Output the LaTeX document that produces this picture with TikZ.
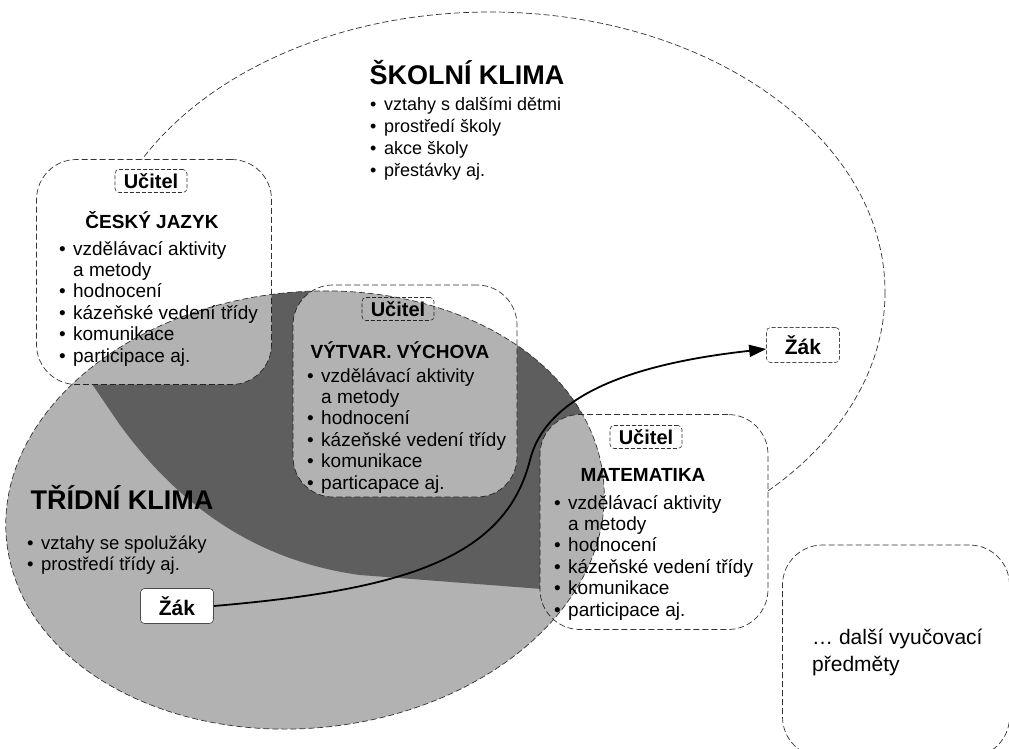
\documentclass[tikz,border=0pt]{standalone}
\usepackage{fontspec}
\setmainfont{Liberation Sans}
\usetikzlibrary{arrows.meta}
\newcommand{\itm}{\makebox[14pt][l]{\textbullet}}
\newcommand{\ind}{\hspace*{14pt}}
\newcommand{\mylist}[4]{\parbox[t]{#1}{\raggedright\fontsize{#2}{#3}\selectfont #4}}
\begin{document}
\begin{tikzpicture}[x=1pt,y=-1pt,
  dashline/.style={draw=black!80, line width=0.7pt, dash pattern=on 6pt off 3pt},
  subjbox/.style={dashline, fill=white, rounded corners=40pt, inner sep=0pt},
  ucitel/.style={draw=black!80, line width=0.6pt, dash pattern=on 4pt off 2pt, rounded corners=4pt, fill=white, font=\fontsize{20}{22}\selectfont\bfseries, minimum width=72pt, minimum height=23pt, inner sep=1pt},
  subjtitle/.style={font=\fontsize{19}{21}\selectfont\bfseries, inner sep=0pt},
  bigtitle/.style={font=\fontsize{27}{30}\selectfont\bfseries, inner sep=0pt},
  itemlist/.style={inner sep=0pt, anchor=base west},
  zak/.style={draw=black!70, line width=0.6pt, fill=white, rounded corners=4pt, font=\fontsize{21}{23}\selectfont\bfseries, minimum width=73pt, minimum height=35pt, inner sep=1pt},
]
\useasboundingbox (0,0) rectangle (1009,748);
\fill[white] (0,0) rectangle (1009,748);
\clip (0,0) rectangle (1009,748);

% school climate ellipse
\filldraw[fill=white, dashline] (490,292) ellipse [x radius=395, y radius=280];

% class climate: white base (hides school outline)
\fill[white, rotate around={6:(305,510)}] (305,510) ellipse [x radius=300, y radius=218];

% dark zone inside the class ellipse
\begin{scope}
  \clip[rotate around={6:(305,510)}] (305,510) ellipse [x radius=300, y radius=218];
  \fill[black!47] (60,337) -- (120,425) .. controls (175,500) and (250,560) .. (360,575)
     -- (620,595) -- (640,250) -- (250,250) -- cycle;
\end{scope}

% subject boxes
\node[subjbox, minimum width=235pt, minimum height=225pt] (cj) at (154,272) {};
\node[subjbox, minimum width=224pt, minimum height=212pt] (vv) at (405,391) {};
\node[subjbox, minimum width=228pt, minimum height=215pt] (ma) at (654,522) {};
\node[subjbox, minimum width=227pt, minimum height=212pt] (dv) at (896,651) {};

\node[ucitel] (u1) at (151,181) {Učitel};
\node[ucitel] (u2) at (398,309) {Učitel};
\node[ucitel] (u3) at (646,437) {Učitel};

% class climate halftone overlay
\fill[black, opacity=0.3, rotate around={6:(305,510)}] (305,510) ellipse [x radius=300, y radius=218];
\draw[dashline, rotate around={6:(305,510)}] (305,510) ellipse [x radius=300, y radius=218];

% titles
\node[bigtitle] (tsk) at (467,73) {ŠKOLNÍ KLIMA};
\node[bigtitle] (ttr) at (122,497) {TŘÍDNÍ KLIMA};
\node[subjtitle] (tcj) at (152,220) {ČESKÝ JAZYK};
\node[subjtitle] (tvv) at (400,350) {VÝTVAR. VÝCHOVA};
\node[subjtitle] (tma) at (643,475) {MATEMATIKA};

% lists
\node[itemlist] (lsk) at (370,110) {\mylist{220pt}{18}{22}{\itm vztahy s dalšími dětmi\\ \itm prostředí školy\\ \itm akce školy\\ \itm přestávky aj.}};
\node[itemlist] (ltr) at (27,549) {\mylist{220pt}{18.5}{21}{\itm vztahy se spolužáky\\ \itm prostředí třídy aj.}};
\node[itemlist] (lcj) at (59,255) {\mylist{230pt}{19}{21.4}{\itm vzdělávací aktivity\\ \ind a metody\\ \itm hodnocení\\ \itm kázeňské vedení třídy\\ \itm komunikace\\ \itm participace aj.}};
\node[itemlist] (lvv) at (307,382) {\mylist{230pt}{19}{21.4}{\itm vzdělávací aktivity\\ \ind a metody\\ \itm hodnocení\\ \itm kázeňské vedení třídy\\ \itm komunikace\\ \itm particapace aj.}};
\node[itemlist] (lma) at (554,509) {\mylist{230pt}{19}{21.4}{\itm vzdělávací aktivity\\ \ind a metody\\ \itm hodnocení\\ \itm kázeňské vedení třídy\\ \itm komunikace\\ \itm participace aj.}};
\node[itemlist] (ldv) at (812,644) {\mylist{200pt}{21}{27}{… další vyučovací\\ předměty}};

% pupils and arrow
\node[zak] (zl) at (177,606) {Žák};
\node[zak, dash pattern=on 4pt off 2pt] (zu) at (803,345) {Žák};
\draw[line width=1.8pt, -{Triangle[length=17pt,width=12pt]}] (zl.east) .. controls (400,590) and (505,560) .. (530,460) .. controls (545,400) and (620,365) .. ([yshift=-4pt]zu.west);
\end{tikzpicture}
\end{document}
